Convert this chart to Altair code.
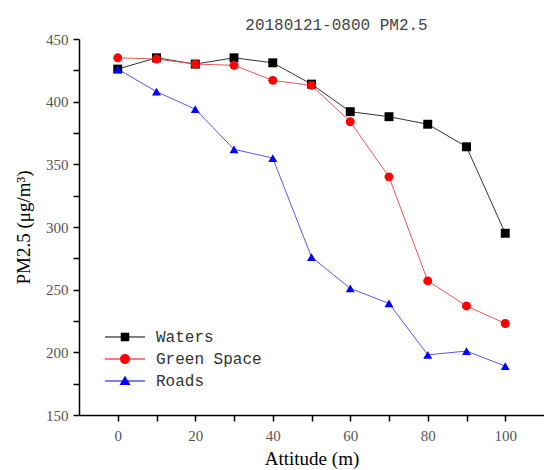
import altair as alt
import pandas as pd

altitude = [0, 10, 20, 30, 40, 50, 60, 70, 80, 90, 100]
waters = [426, 435, 430, 435, 431, 414, 392, 388, 382, 364, 295]
green_space = [435, 434, 430, 429, 417, 413, 384, 340, 257, 237, 223]
roads = [426, 408, 394, 362, 355, 276, 251, 239, 198, 201, 189]

series_names = ["Waters", "Green Space", "Roads"]
marker_colors = ["#000000", "#ff0000", "#0000ff"]
line_colors = ["#333333", "#e05a5a", "#5a5ae0"]
shapes = ["square", "circle", "triangle-up"]

legend_shapes = [
    "M-4,-0.1H4V0.1H-4Z M-0.85,-0.85H0.85V0.85H-0.85Z",
    "M-4,-0.1H4V0.1H-4Z M-1,0 A1,1 0 1,1 1,0 A1,1 0 1,1 -1,0Z",
    "M-4,-0.1H4V0.1H-4Z M0,-1.05 L1.1,0.8 L-1.1,0.8Z",
]

rows = []
for name, vals, lc in zip(series_names, [waters, green_space, roads], line_colors):
    for a, v in zip(altitude, vals):
        rows.append({"Altitude": a, "PM25": v, "Series": name, "lc": lc})
df = pd.DataFrame(rows)
df["order"] = df["Series"].map({n: i for i, n in enumerate(series_names)})

x_enc = alt.X(
    "Altitude:Q",
    scale=alt.Scale(domain=[-10, 110], nice=False, zero=False),
    axis=alt.Axis(
        title="Attitude (m)",
        values=list(range(0, 101, 10)),
        labelExpr="datum.value % 20 === 0 ? datum.label : ''",
        grid=False,
        tickSize=6,
        labelPadding=7,
        titlePadding=6,
    ),
)
y_enc = alt.Y(
    "PM25:Q",
    scale=alt.Scale(domain=[150, 450], nice=False, zero=False),
    axis=alt.Axis(
        title="PM2.5 (μg/m³)",
        values=list(range(150, 451, 25)),
        labelExpr="datum.value % 50 === 0 ? datum.label : ''",
        grid=False,
        tickSize=6,
        labelPadding=5,
        titlePadding=12,
    ),
)

base = alt.Chart(df)

lines = base.mark_line(strokeWidth=1).encode(
    x=x_enc,
    y=y_enc,
    detail="Series:N",
    color=alt.Color("lc:N", scale=None),
    order=alt.Order("Altitude:Q"),
)

points = base.mark_point(filled=True, size=80, opacity=1).encode(
    x=x_enc,
    y=y_enc,
    color=alt.Color("Series:N", scale=alt.Scale(domain=series_names, range=marker_colors), legend=None),
    shape=alt.Shape("Series:N", scale=alt.Scale(domain=series_names, range=shapes), legend=None),
    order=alt.Order("order:Q"),
)

main = alt.layer(lines, points)

legend_props = dict(
    title=None,
    orient="none",
    legendX=38,
    legendY=290,
    symbolSize=100,
    symbolOpacity=1,
    symbolStrokeWidth=0,
    labelOffset=23,
    labelFont="Liberation Mono",
    labelFontSize=16,
    labelColor="#333333",
    rowPadding=6,
    padding=0,
)

legend_layer = base.mark_point(filled=True, opacity=0).encode(
    x=x_enc,
    y=y_enc,
    color=alt.Color(
        "Series:N",
        scale=alt.Scale(domain=series_names, range=marker_colors),
        legend=alt.Legend(**legend_props),
    ),
    shape=alt.Shape(
        "Series:N",
        scale=alt.Scale(domain=series_names, range=legend_shapes),
        legend=alt.Legend(**legend_props),
    ),
)

chart = (
    alt.layer(main, legend_layer)
    .resolve_scale(color="independent", shape="independent")
    .properties(
        width=465,
        height=376,
        autosize=alt.AutoSizeParams(type="none"),
        padding={"left": 79, "top": 39, "right": 0, "bottom": 55},
        title=alt.Title(
            "20180121-0800 PM2.5",
            font="Liberation Mono",
            fontSize=16,
            fontWeight="normal",
            color="#444444",
            offset=-1,
            dx=25,
        ),
        background="white",
    )
    .configure_view(stroke=None)
    .configure_axis(
        domainColor="#000000",
        domainWidth=1.5,
        tickColor="#000000",
        tickWidth=1.5,
        labelFont="Liberation Serif",
        labelFontSize=15,
        labelColor="#555555",
        titleFont="Liberation Serif",
        titleFontSize=19,
        titleFontWeight="normal",
        titleColor="#000000",
    )
)

chart.save("out.html", embed_options={"renderer": "svg", "actions": False})
